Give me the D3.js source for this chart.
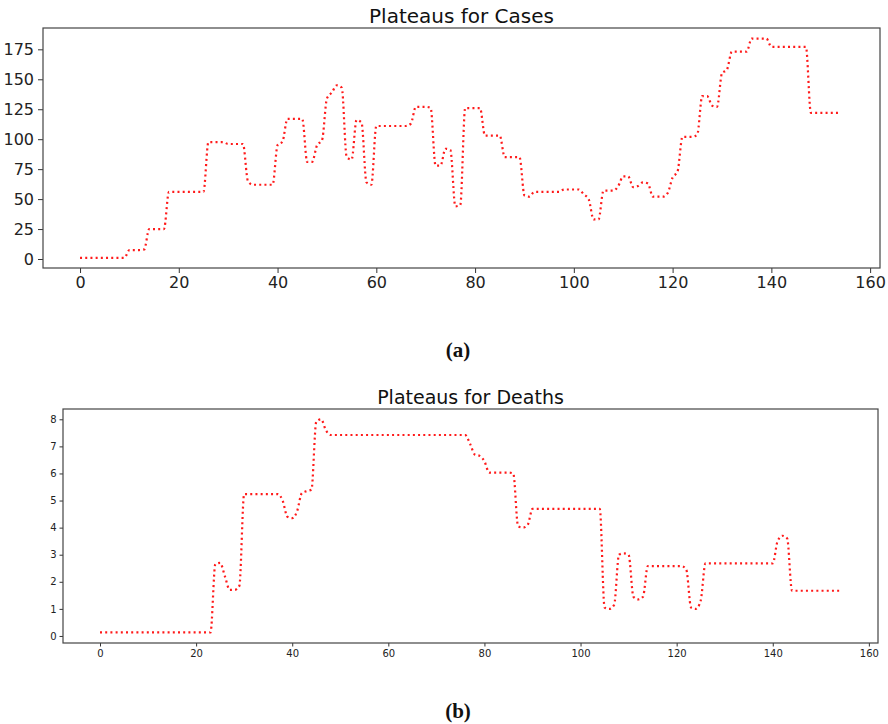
<!DOCTYPE html>
<html>
<head>
<meta charset="utf-8">
<script src="https://cdn.jsdelivr.net/npm/d3@7"></script>
<style>
  body { margin: 0; background: #fff; }
  svg { display: block; }
</style>
</head>
<body>
<div id="chart"></div>
<script>
// daily plateau values, one per day (index = day)
const casesValues = [
  1, 1, 1, 1, 1, 1, 1, 1, 1, 1,
  7.5, 7.5, 7.5, 8, 25, 25, 25, 25, 56, 56,
  56, 56, 56, 56, 56, 56, 97.5, 97.5, 97.5, 97.5,
  96, 96, 96, 96, 65, 62, 62, 62, 62, 62,
  95, 98, 117, 117, 117, 117, 81, 81, 95, 99,
  134, 139, 145, 143, 85, 83, 116, 114, 64, 62,
  111, 111, 111, 111, 111, 111, 111, 113, 127, 127,
  127, 126, 78, 78, 92, 91, 44, 45, 126, 126,
  126, 126, 103, 103, 103, 103, 85, 85, 85, 85,
  53, 52, 56, 56, 56, 56, 56, 56, 58, 58,
  58, 58, 54, 50, 33, 33, 57, 57, 57, 61,
  69, 69, 60, 61, 64, 63, 52, 52, 52, 55,
  68, 73, 102, 102, 102, 104, 136, 136, 128, 127,
  155, 158, 173, 173, 173, 173, 184, 184, 184, 184,
  177, 177, 177, 177, 177, 177, 177, 177, 122, 122,
  122, 122, 122, 122, 122
];

const deathsValues = [
  0.13, 0.13, 0.13, 0.13, 0.13, 0.13, 0.13, 0.13, 0.13, 0.13,
  0.13, 0.13, 0.13, 0.13, 0.13, 0.13, 0.13, 0.13, 0.13, 0.13,
  0.13, 0.13, 0.13, 0.13, 2.65, 2.7, 2.2, 1.7, 1.7, 1.85,
  5.24, 5.24, 5.24, 5.24, 5.24, 5.24, 5.24, 5.24, 5.0, 4.4,
  4.35, 4.6, 5.27, 5.35, 5.4, 7.9, 8.0, 7.6, 7.42, 7.42,
  7.42, 7.42, 7.42, 7.42, 7.42, 7.42, 7.42, 7.42, 7.42, 7.42,
  7.42, 7.42, 7.42, 7.42, 7.42, 7.42, 7.42, 7.42, 7.42, 7.42,
  7.42, 7.42, 7.42, 7.42, 7.42, 7.42, 7.42, 7.1, 6.7, 6.65,
  6.45, 6.03, 6.03, 6.03, 6.03, 6.03, 6.0, 4.05, 4.0, 4.1,
  4.69, 4.69, 4.69, 4.69, 4.69, 4.69, 4.69, 4.69, 4.69, 4.69,
  4.69, 4.69, 4.69, 4.69, 4.69, 1.05, 1.0, 1.15, 3.0, 3.05,
  3.0, 1.45, 1.35, 1.45, 2.58, 2.58, 2.58, 2.58, 2.58, 2.58,
  2.58, 2.58, 2.45, 1.05, 1.0, 1.3, 2.68, 2.68, 2.68, 2.68,
  2.68, 2.68, 2.68, 2.68, 2.68, 2.68, 2.68, 2.68, 2.68, 2.68,
  2.68, 3.5, 3.7, 3.6, 1.67, 1.67, 1.67, 1.67, 1.67, 1.67,
  1.67, 1.67, 1.67, 1.67, 1.67
];

const xTicks = [0, 20, 40, 60, 80, 100, 120, 140, 160];
const casesTicks = [0, 25, 50, 75, 100, 125, 150, 175];
const deathsTicks = [0, 1, 2, 3, 4, 5, 6, 7, 8];

const svg = d3.select("#chart")
  .append("svg")
    .attr("width", 888)
    .attr("height", 724);

function drawPanel(p) {
  const x = d3.scaleLinear().domain(p.xDomain).range([p.left, p.right]);
  const y = d3.scaleLinear().domain(p.yDomain).range([p.bottom, p.top]);
  const g = svg.append("g");

  // x axis
  const xa = g.append("g")
    .attr("transform", `translate(0, ${p.bottom})`)
    .call(d3.axisBottom(x).tickValues(xTicks).tickSize(p.tick).tickPadding(p.pad).tickSizeOuter(0));
  xa.select(".domain").remove();

  // y axis
  const ya = g.append("g")
    .attr("transform", `translate(${p.left}, 0)`)
    .call(d3.axisLeft(y).tickValues(p.yTicks).tickSize(p.tick).tickPadding(p.pad).tickSizeOuter(0));
  ya.select(".domain").remove();

  g.selectAll(".tick text")
    .attr("font-family", "DejaVu Sans, sans-serif")
    .attr("font-size", p.fontSize)
    .attr("fill", "#222");
  g.selectAll(".tick line").attr("stroke", "#333");

  // frame
  g.append("rect")
    .attr("x", p.left)
    .attr("y", p.top)
    .attr("width", p.right - p.left)
    .attr("height", p.bottom - p.top)
    .attr("fill", "none")
    .attr("stroke", "#444")
    .attr("stroke-width", 1.2);

  // dotted line
  const line = d3.line()
    .x((d, i) => x(i))
    .y(d => y(d))
    .curve(d3.curveMonotoneX);

  g.append("path")
    .datum(p.values)
    .attr("d", line)
    .attr("fill", "none")
    .attr("stroke", "#ff1a1a")
    .attr("stroke-width", 2.2)
    .attr("stroke-dasharray", "2,3.2");

  // title
  g.append("text")
    .attr("x", (p.left + p.right) / 2)
    .attr("y", p.titleY)
    .attr("text-anchor", "middle")
    .attr("font-family", "DejaVu Sans, sans-serif")
    .attr("font-size", p.titleSize)
    .attr("fill", "#111")
    .text(p.title);

  // panel caption
  svg.append("text")
    .attr("x", 458)
    .attr("y", p.captionY)
    .attr("text-anchor", "middle")
    .attr("font-family", "Liberation Serif, serif")
    .attr("font-weight", "bold")
    .attr("font-size", 21)
    .attr("fill", "#111")
    .text(p.caption);
}

drawPanel({
  values: casesValues, yTicks: casesTicks,
  left: 43, right: 880, top: 28, bottom: 268,
  xDomain: [-7.5, 162], yDomain: [-7.5, 192.8],
  tick: 5, pad: 4, fontSize: 16,
  title: "Plateaus for Cases", titleY: 23, titleSize: 20,
  caption: "(a)", captionY: 357
});

drawPanel({
  values: deathsValues, yTicks: deathsTicks,
  left: 63, right: 878, top: 409, bottom: 643,
  xDomain: [-7.7, 161.9], yDomain: [-0.26, 8.38],
  tick: 3.5, pad: 3, fontSize: 10,
  title: "Plateaus for Deaths", titleY: 404, titleSize: 19,
  caption: "(b)", captionY: 718
});
</script>
</body>
</html>
